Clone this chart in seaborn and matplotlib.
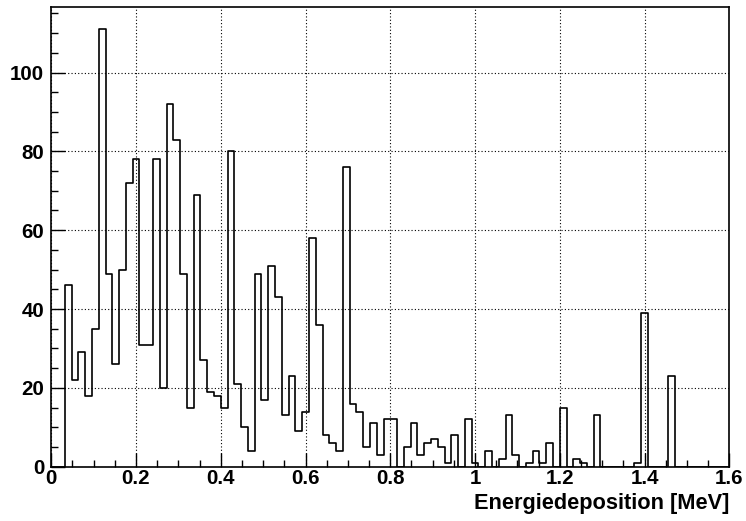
import numpy as np
import pandas as pd
import seaborn as sns
import matplotlib
matplotlib.use("Agg")
import matplotlib.pyplot as plt
from matplotlib.ticker import MultipleLocator

# 100 bins from 0 to 1.6 MeV (bin width 0.016)
bin_lo = 0.0
bin_hi = 1.6
n_bins = 100
counts = [
    0, 0, 46, 22, 29, 18, 35, 111, 49, 26,
    50, 72, 78, 31, 31, 78, 20, 92, 83, 49,
    15, 69, 27, 19, 18, 15, 80, 21, 10, 4,
    49, 17, 51, 43, 13, 23, 9, 14, 58, 36,
    8, 6, 4, 76, 16, 14, 5, 11, 3, 12,
    12, 0, 5, 11, 3, 6, 7, 5, 1, 8,
    0, 12, 1, 0, 4, 0, 2, 13, 3, 0,
    1, 4, 1, 6, 0, 15, 0, 2, 1, 0,
    13, 0, 0, 0, 0, 0, 1, 39, 0, 0,
    0, 23, 0, 0, 0, 0, 0, 0, 0, 0,
]
x_ticks = [0, 0.2, 0.4, 0.6, 0.8, 1.0, 1.2, 1.4, 1.6]
x_ticklabels = ["0", "0.2", "0.4", "0.6", "0.8", "1", "1.2", "1.4", "1.6"]
y_ticks = [0, 20, 40, 60, 80, 100]
x_label = "Energiedeposition [MeV]"

edges = np.linspace(bin_lo, bin_hi, n_bins + 1)
centers = 0.5 * (edges[:-1] + edges[1:])
df = pd.DataFrame({"E": centers, "n": np.asarray(counts, dtype=float)})

sns.set_theme(style="white")
plt.rcParams["font.family"] = ["Liberation Sans", "DejaVu Sans"]
plt.rcParams["font.weight"] = "bold"
plt.rcParams["text.color"] = "black"
plt.rcParams["axes.labelcolor"] = "black"

fig = plt.figure(figsize=(7.46, 5.21), dpi=100)
ax = fig.add_axes([51.3 / 746, 1 - 466.7 / 521, (729.3 - 51.3) / 746, (466.7 - 7.3) / 521])

sns.histplot(data=df, x="E", weights="n", bins=n_bins, binrange=(bin_lo, bin_hi),
             element="step", fill=False, color="black", linewidth=1.2, ax=ax)

ax.set_xlim(0, 1.6)
ax.set_ylim(0, max(counts) * 1.05)

ax.set_xticks(x_ticks)
ax.set_xticklabels(x_ticklabels)
ax.set_yticks(y_ticks)
ax.xaxis.set_minor_locator(MultipleLocator(0.05))
ax.yaxis.set_minor_locator(MultipleLocator(5))

for lab in ax.get_xticklabels() + ax.get_yticklabels():
    lab.set_fontweight("bold")
    lab.set_fontsize(14.8)
    lab.set_color("black")

ax.tick_params(axis="x", which="major", direction="in", length=10, width=1, pad=2, colors="black")
ax.tick_params(axis="x", which="minor", direction="in", length=5, width=1, colors="black")
ax.tick_params(axis="y", which="major", direction="in", length=10, width=1, pad=5, colors="black")
ax.tick_params(axis="y", which="minor", direction="in", length=5, width=1, colors="black")
ax.tick_params(bottom=True, left=True, which="both")

ax.grid(True, which="major", color="black", linestyle=(0, (1, 2)), linewidth=0.8)
ax.set_axisbelow(True)

for s in ax.spines.values():
    s.set_color("black")
    s.set_linewidth(1.2)
    s.set_visible(True)

ax.set_ylabel("")
ax.set_xlabel(x_label, fontsize=15.7, fontweight="bold", loc="right", labelpad=3, color="black")

fig.savefig("out.png", dpi=100, facecolor="white")
